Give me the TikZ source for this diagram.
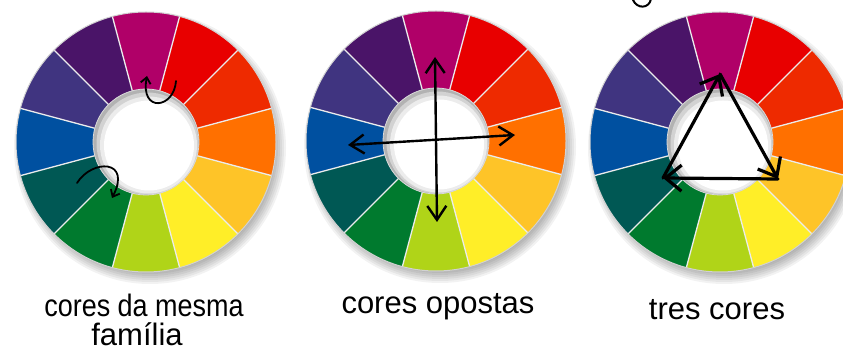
\documentclass[tikz,border=0pt]{standalone}
\usepackage{fontspec}
\usepackage{graphicx}
\setmainfont{Liberation Sans}
\usetikzlibrary{arrows.meta}
\definecolor{wmag}{HTML}{B00068}
\definecolor{wred}{HTML}{E80000}
\definecolor{wro}{HTML}{EE2A00}
\definecolor{wor}{HTML}{FF7000}
\definecolor{wyo}{HTML}{FEC428}
\definecolor{wye}{HTML}{FFEE28}
\definecolor{wyg}{HTML}{B0D418}
\definecolor{wgr}{HTML}{007A2E}
\definecolor{wte}{HTML}{005854}
\definecolor{wbl}{HTML}{0050A0}
\definecolor{wbv}{HTML}{403480}
\definecolor{wvi}{HTML}{4A1468}
\tikzset{
  sepline/.style={white!85!gray, line width=1.3},
  wheel/.pic={
    \foreach \k in {0,...,6}
      \fill[black, opacity=0.05] (4,-6) circle ({124+2*\k});
    \foreach \c [count=\i from 0] in {wmag,wred,wro,wor,wyo,wye,wyg,wgr,wte,wbl,wbv,wvi} {
      \pgfmathsetmacro\a{105-30*\i}
      \pgfmathsetmacro\b{75-30*\i}
      \fill[\c] (0,0) -- (\a:130) arc[start angle=\a, end angle=\b, radius=130] -- cycle;
    }
    \foreach \t in {15,45,...,345}
      \draw[sepline] (\t:53) -- (\t:130);
    \draw[gray!35, line width=1] (0,0) circle (130);
    \begin{scope}
      \clip (0,0) circle (53);
      \fill[gray!60] (0,0) circle (53);
      \fill[gray!35] (1.5,-1.5) circle (51);
      \fill[white!85!gray] (2.5,-3) circle (48.5);
      \fill[white] (3,-3.5) circle (45);
    \end{scope}
    \draw[gray!30, line width=0.8] (0,0) circle (53);
  },
  curl/.style={line width=1.8, line cap=round, -{Straight Barb[length=6pt, width=10pt]}},
  cross/.style={line width=2.4, line cap=round, {Straight Barb[length=14pt, width=19pt]}-{Straight Barb[length=14pt, width=19pt]}},
  tri/.style={line width=3.2, line cap=round, line join=round, -{Straight Barb[length=16pt, width=26pt]}},
  lbl/.style={anchor=base, inner sep=0pt, font=\fontsize{31}{31}\selectfont}
}
\begin{document}
\begin{tikzpicture}[x=1pt, y=1pt]
\useasboundingbox (0,0) rectangle (843,353);
\fill[white] (0,0) rectangle (843,353);

\pic at (146,211) {wheel};
\pic at (436,212) {wheel};
\pic at (720,211) {wheel};

% wheel 1 curls
\coordinate (c1s) at (176,272);
\coordinate (c1t) at (147,277);
\coordinate (c2s) at (77,170);
\coordinate (c2t) at (112,155);
\draw[curl] (c1s) .. controls (174,244) and (140,240) .. (c1t);
\draw[curl] (c2s) .. controls (92,194) and (132,194) .. (c2t);

% wheel 2 opposites
\coordinate (v1) at (435,296);
\coordinate (v2) at (437,131);
\coordinate (h1) at (348,208);
\coordinate (h2) at (515,218);
\draw[cross] (v1) -- (v2);
\draw[cross] (h1) -- (h2);

% wheel 3 triangle
\coordinate (tT) at (720,279);
\coordinate (tR) at (778,174);
\coordinate (tL) at (663,175);
\draw[tri] (tL) -- (tT);
\draw[tri] (tT) -- (tR);
\draw[tri] (tR) -- (tL);

% fragment of cut-off text at the top
\draw[line width=2, line cap=round] (651,354) .. controls (649,344) and (637,344) .. (633,353);

% labels
\node[lbl] (l1) at (144,36) {\scalebox{0.87}[1]{cores da mesma}};
\node[lbl] (l1b) at (137,7) {família};
\node[lbl] (l2) at (438,39) {cores opostas};
\node[lbl] (l3) at (717,33) {tres cores};
\end{tikzpicture}
\end{document}
